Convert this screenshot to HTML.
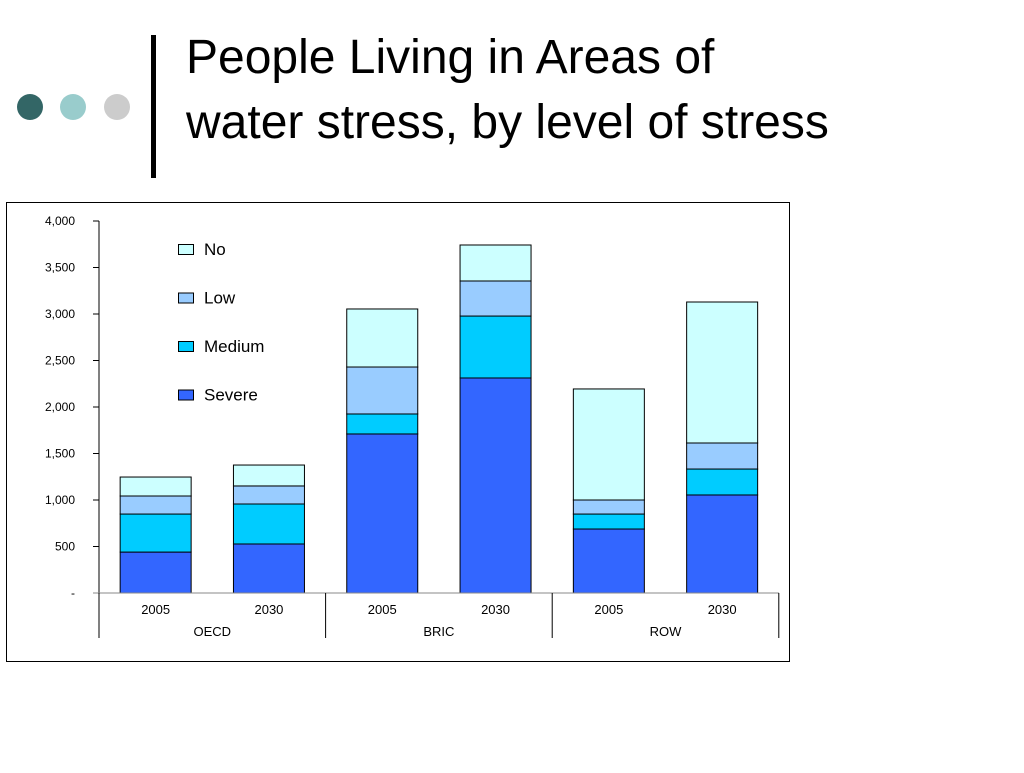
<!DOCTYPE html>
<html><head><meta charset="utf-8"><style>
body{margin:0;width:1024px;height:768px;background:#fff;overflow:hidden;font-family:"Liberation Sans",sans-serif}
</style></head><body>
<svg width="1024" height="768">
<circle cx="30" cy="107" r="13" fill="#336666"/>
<circle cx="73" cy="107" r="13" fill="#99cccc"/>
<circle cx="117" cy="107" r="13" fill="#cccccc"/>
<rect x="151" y="35" width="5" height="143" fill="#000"/>
<text x="186" y="73" font-size="48" fill="#000">People Living in Areas of</text>
<text x="186" y="138" font-size="48" fill="#000">water stress, by level of stress</text>
<rect x="6.5" y="202.5" width="783" height="459" fill="#fff" stroke="#000"/>
<g id="chart"></g>
</svg>
<script>
const years=["2005","2030","2005","2030","2005","2030"];
const groups=["OECD","BRIC","ROW"];
const severe=[440,527,1710,2312,688,1054];
const medium=[409,430,215,666,161,279];
const low=[194,194,505,377,151,280];
const no=[204,225,624,387,1194,1516];
const yTicks=[0,500,1000,1500,2000,2500,3000,3500,4000];
const yLabels=["-","500","1,000","1,500","2,000","2,500","3,000","3,500","4,000"];
const seriesNames=["Severe","Medium","Low","No"];
const colors=["#3366ff","#00ccff","#99ccff","#ccffff"];
const NS="http://www.w3.org/2000/svg";
const g=document.getElementById('chart');
const y=v=>593-v*0.093;
const x0=99,slot=113.3;
function el(t,a,txt){const e=document.createElementNS(NS,t);for(const k in a)e.setAttribute(k,a[k]);if(txt!=null)e.textContent=txt;g.appendChild(e);return e;}
let e=el('line',{x1:99,y1:221,x2:99,y2:593,stroke:'#000'});


yTicks.forEach((t,i)=>{
 let l=el('line',{x1:93,x2:99,y1:y(t),y2:y(t),stroke:'#000'});
 
 
 let tx=el('text',{x:75,y:y(t)+4,'font-size':12,'text-anchor':'end'},yLabels[i]);
 
 
});
const series=[severe,medium,low,no];
years.forEach((yr,i)=>{
 let base=0;const cx=x0+slot*(i+0.5);
 series.forEach((s,k)=>{
  const r=el('rect',{x:cx-35.5,y:y(base+s[i]),width:71,height:s[i]*0.093,fill:colors[k],stroke:'#000','stroke-width':1});
  
  
  base+=s[i];
 });
 const t=el('text',{x:cx,y:614,'font-size':13,'text-anchor':'middle'},yr);
 
 
});
e=el('line',{x1:93,y1:593,x2:779,y2:593,stroke:'#888'});


for(let j=0;j<=3;j++){
 const xx=x0+slot*2*j;
 const l=el('line',{x1:xx,x2:xx,y1:593,y2:638,stroke:'#000'});
 
 
}
groups.forEach((gr,j)=>{
 const t=el('text',{x:x0+slot*(2*j+1),y:636,'font-size':13,'text-anchor':'middle'},gr);
 
 
});
[3,2,1,0].forEach((k,i)=>{
 const ly=244+i*48.5;
 const r=el('rect',{x:178.5,y:ly+0.5,width:15,height:10,fill:colors[k],stroke:'#000'});
 
 
 const t=el('text',{x:204,y:ly+11,'font-size':17},seriesNames[k]);
 
 
});
</script>
</body></html>
